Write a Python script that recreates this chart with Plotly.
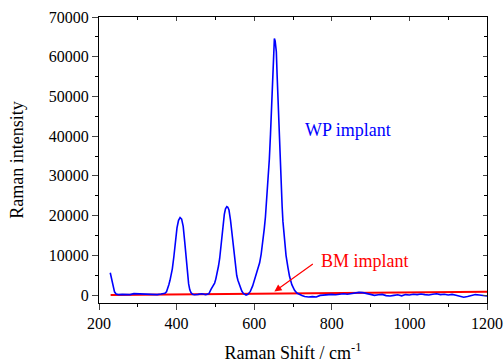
import plotly.graph_objects as go

# WP implant spectrum
wp_shift = [229, 232, 236, 240, 244, 250, 260, 270, 280, 290, 300, 310, 320, 330, 340, 350, 360, 365,
            370, 374, 377, 380, 383, 386, 389, 393, 397, 401, 405, 409, 413, 417, 421, 425, 428, 431,
            434, 437, 441, 446, 455, 465, 475, 483, 489, 494, 498, 501, 505, 508, 511, 515, 519, 523,
            526, 529.5, 532, 535, 539, 543, 547, 552, 555, 558, 561, 564, 568, 572, 576, 579, 584, 590,
            596, 601, 607, 614, 618, 622, 626, 629, 632, 635, 639, 642, 644, 646, 648, 650, 652, 654,
            657, 659, 661, 663, 665, 668, 670, 672, 674, 678, 682, 687, 691, 697, 704, 710, 717, 723,
            730, 740, 750, 760, 770, 780, 790, 800, 810, 820, 830, 840, 850, 860, 870, 880, 890, 900,
            910, 920, 930, 940, 950, 960, 970, 980, 990, 1000, 1010, 1020, 1030, 1040, 1050, 1060,
            1070, 1080, 1090, 1100, 1110, 1120, 1130, 1140, 1150, 1160, 1170, 1180, 1190, 1200]
wp_intensity = [5600, 4200, 2300, 800, 250, 100, 150, 200, 100, 350, 300, 200, 250, 150, 200, 100, 250, 300,
                450, 800, 1500, 2600, 3700, 5000, 6600, 9700, 13700, 16900, 18800, 19500, 19100, 17300, 13300, 8500, 5100, 2800,
                1300, 600, 200, 50, 150, 300, 100, 300, 1500, 2400, 3000, 4000, 5700, 7300, 9200, 13100, 17000, 20300,
                21700, 22240, 22100, 21400, 18800, 14900, 10900, 6600, 4900, 3700, 2700, 1900, 1000, 400, 100, 0, 200, 900,
                2300, 3800, 5700, 8100, 10300, 12900, 16700, 19700, 23500, 27200, 34200, 40500, 46000, 52000, 58300, 62500, 64600, 64000,
                61300, 55500, 49800, 44000, 38600, 31000, 26300, 22300, 18600, 13800, 10000, 6900, 4700, 2600, 1200, 500, 100, -100,
                -400, -500, -400, -500, -100, 0, 100, 150, 50, 200, 300, 200, 350, 500, 650, 600, 350, 100,
                -100, 50, 150, -150, -250, -100, 50, -200, 100, 0, 200, 100, 250, 100, 0, 200,
                300, 100, 200, 0, 150, -50, -300, -550, -400, -100, 100, 0, -100, -250]

# BM implant spectrum
bm_shift = [230, 300, 400, 500, 600, 700, 800, 900, 1000, 1100, 1150, 1200]
bm_intensity = [0, 50, 100, 180, 250, 320, 400, 480, 550, 620, 800, 850]

x_ticks = [200, 400, 600, 800, 1000, 1200]
y_ticks = [0, 10000, 20000, 30000, 40000, 50000, 60000, 70000]
y_tick_labels = [str(v) for v in y_ticks]

FONT = "Liberation Serif, Times New Roman, serif"
XR = [200, 1200]
YR = [-2014, 70000]

fig = go.Figure()
fig.add_trace(go.Scatter(x=bm_shift, y=bm_intensity, mode="lines", name="BM implant",
                         line=dict(color="#ff0000", width=2)))
fig.add_trace(go.Scatter(x=wp_shift, y=wp_intensity, mode="lines", name="WP implant",
                         line=dict(color="#0000ff", width=1.6)))
# invisible trace to activate mirrored top/right axes
fig.add_trace(go.Scatter(x=[XR[0]], y=[YR[0]], xaxis="x2", yaxis="y2", mode="markers",
                         marker=dict(opacity=0), hoverinfo="skip", showlegend=False))

fig.update_layout(
    width=504, height=363,
    margin=dict(l=99, r=17, t=17, b=60),
    paper_bgcolor="white", plot_bgcolor="white",
    showlegend=False,
    font=dict(family=FONT, size=16, color="black"),
    xaxis=dict(range=XR, tickvals=x_ticks, ticks="outside", ticklen=6, tickwidth=1,
               showline=True, linecolor="black", linewidth=1.2, mirror=True,
               showgrid=False, zeroline=False, automargin=False,
               minor=dict(dtick=100, ticks="outside", ticklen=3, tickcolor="black"),
               tickfont=dict(family=FONT, size=16),
               title=dict(text="Raman Shift / cm<sup>-1</sup>", font=dict(family=FONT, size=18), standoff=23)),
    yaxis=dict(range=YR, tickvals=y_ticks, ticktext=y_tick_labels, ticks="outside", ticklen=6, tickwidth=1,
               showline=True, linecolor="black", linewidth=1.2, mirror=True,
               showgrid=False, zeroline=False, automargin=False,
               minor=dict(dtick=5000, ticks="outside", ticklen=3, tickcolor="black"),
               tickfont=dict(family=FONT, size=16),
               title=dict(text="Raman intensity", font=dict(family=FONT, size=18), standoff=20)),
    xaxis2=dict(range=XR, overlaying="x", side="top", dtick=200, tick0=200, ticks="inside",
                ticklen=4, showticklabels=False, showgrid=False, zeroline=False, showline=False,
                minor=dict(dtick=100, ticks="inside", ticklen=3, tickcolor="black")),
    yaxis2=dict(range=YR, overlaying="y", side="right", dtick=10000, tick0=0, ticks="inside",
                ticklen=4, showticklabels=False, showgrid=False, zeroline=False, showline=False,
                minor=dict(dtick=5000, ticks="inside", ticklen=3, tickcolor="black")),
    annotations=[
        dict(x=725, y=41550, xref="x", yref="y", text="WP implant", showarrow=False,
             xanchor="left", font=dict(family=FONT, size=18, color="#0000ff")),
        dict(x=768, y=8560, xref="x", yref="y", text="BM implant", showarrow=False,
             xanchor="left", font=dict(family=FONT, size=18, color="#ff0000")),
        dict(x=652, y=880, xref="x", yref="y", ax=755, ay=8060, axref="x", ayref="y",
             text="", showarrow=True, arrowhead=2, arrowsize=1.2, arrowwidth=1.2,
             arrowcolor="#ff0000"),
    ],
)

fig.write_html("out.html")
